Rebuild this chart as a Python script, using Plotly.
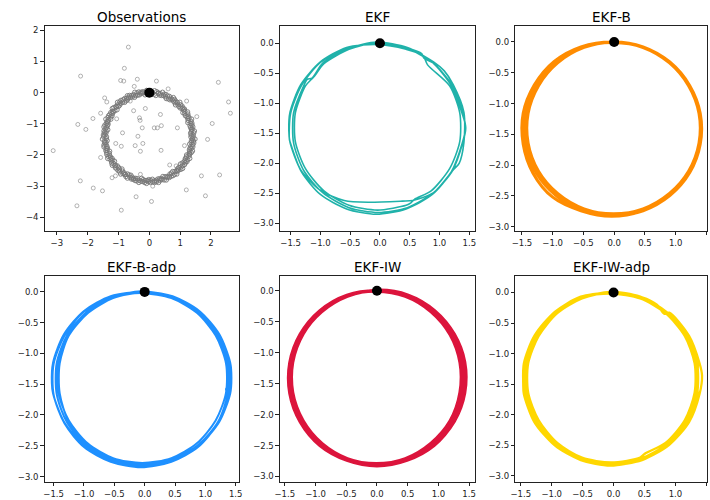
import plotly.graph_objects as go

# ---------------- data ----------------
panel_titles = ["Observations", "EKF", "EKF-B", "EKF-B-adp", "EKF-IW", "EKF-IW-adp"]
line_colors = ["#808080", "#20B2AA", "#FF8C00", "#1E90FF", "#DC143C", "#FFD700"]
start_point = (0.0, 0.0)

# noisy observations near the ring (four passes around it)
ring_in_x = [-0.02, 0.10, 0.21, 0.34, 0.46, 0.55, 0.67, 0.78, 0.85, 0.96, 1.06, 1.09, 1.17, 1.25, 1.25, 1.32, 1.37, 1.34, 1.35,
             1.37, 1.31, 1.32, 1.31, 1.21, 1.17, 1.13, 1.01, 0.96, 0.89, 0.76, 0.67, 0.57, 0.44, 0.34, 0.23, 0.10, -0.02,
             -0.14, -0.25, -0.38, -0.50, -0.60, -0.71, -0.82, -0.89, -1.00, -1.10, -1.13, -1.21, -1.29, -1.29, -1.36, -1.41, -1.37, -1.39,
             -1.41, -1.35, -1.36, -1.35, -1.25, -1.21, -1.17, -1.05, -1.00, -0.93, -0.80, -0.71, -0.61, -0.48, -0.38, -0.27, -0.14]
ring_in_y = [-0.05, -0.03, -0.09, -0.08, -0.09, -0.19, -0.23, -0.27, -0.39, -0.44, -0.51, -0.64, -0.74, -0.83, -0.96, -1.06, -1.18, -1.30, -1.42,
             -1.54, -1.65, -1.78, -1.90, -2.00, -2.11, -2.22, -2.29, -2.40, -2.50, -2.53, -2.61, -2.69, -2.69, -2.76, -2.81, -2.78, -2.79,
             -2.82, -2.75, -2.76, -2.75, -2.65, -2.61, -2.57, -2.45, -2.40, -2.33, -2.20, -2.11, -2.01, -1.88, -1.78, -1.67, -1.54, -1.42,
             -1.30, -1.19, -1.06, -0.94, -0.85, -0.74, -0.62, -0.55, -0.44, -0.34, -0.31, -0.23, -0.15, -0.15, -0.08, -0.03, -0.07]
ring_out_x = [0.04, 0.17, 0.29, 0.43, 0.54, 0.65, 0.78, 0.86, 0.99, 1.06, 1.14, 1.24, 1.26, 1.37, 1.38, 1.41, 1.46, 1.42,
              1.48, 1.44, 1.41, 1.40, 1.31, 1.31, 1.22, 1.14, 1.08, 0.95, 0.89, 0.77, 0.65, 0.55, 0.41, 0.30, 0.17, 0.04,
              -0.09, -0.21, -0.34, -0.46, -0.58, -0.71, -0.79, -0.93, -1.01, -1.10, -1.20, -1.23, -1.35, -1.38, -1.41, -1.47, -1.45, -1.52,
              -1.49, -1.47, -1.47, -1.39, -1.41, -1.32, -1.25, -1.20, -1.08, -1.03, -0.92, -0.80, -0.71, -0.57, -0.47, -0.34, -0.21, -0.09]
ring_out_y = [0.04, 0.06, -0.01, 0.01, -0.06, -0.12, -0.16, -0.28, -0.31, -0.43, -0.53, -0.62, -0.76, -0.85, -0.98, -1.10, -1.23, -1.36,
              -1.49, -1.61, -1.74, -1.87, -1.97, -2.11, -2.21, -2.31, -2.43, -2.48, -2.61, -2.66, -2.72, -2.80, -2.79, -2.88, -2.88, -2.88,
              -2.91, -2.85, -2.88, -2.82, -2.77, -2.74, -2.63, -2.61, -2.50, -2.41, -2.33, -2.19, -2.11, -1.98, -1.86, -1.74, -1.61, -1.49,
              -1.36, -1.23, -1.10, -0.99, -0.85, -0.74, -0.64, -0.51, -0.45, -0.31, -0.25, -0.19, -0.10, -0.09, 0.01, 0.02, 0.03, 0.07]
ring_mid_x = [0.04, 0.16, 0.29, 0.40, 0.52, 0.62, 0.74, 0.83, 0.93, 1.00, 1.11, 1.15, 1.22, 1.26, 1.33, 1.34, 1.37, 1.36,
              1.40, 1.36, 1.35, 1.30, 1.29, 1.21, 1.16, 1.07, 1.03, 0.92, 0.83, 0.72, 0.64, 0.51, 0.40, 0.28, 0.17, 0.04,
              -0.08, -0.20, -0.33, -0.44, -0.56, -0.66, -0.78, -0.87, -0.97, -1.04, -1.15, -1.19, -1.26, -1.30, -1.37, -1.38, -1.41, -1.40,
              -1.44, -1.40, -1.39, -1.34, -1.33, -1.25, -1.20, -1.12, -1.07, -0.96, -0.87, -0.76, -0.68, -0.55, -0.44, -0.32, -0.21, -0.08]
ring_mid_y = [-0.02, -0.05, -0.03, -0.09, -0.13, -0.20, -0.22, -0.32, -0.39, -0.49, -0.56, -0.67, -0.77, -0.89, -0.99, -1.12, -1.24, -1.36,
              -1.48, -1.60, -1.72, -1.84, -1.96, -2.06, -2.17, -2.26, -2.38, -2.44, -2.53, -2.58, -2.68, -2.70, -2.76, -2.77, -2.83, -2.81,
              -2.82, -2.79, -2.81, -2.75, -2.71, -2.64, -2.62, -2.52, -2.45, -2.35, -2.28, -2.17, -2.07, -1.95, -1.85, -1.72, -1.60, -1.48,
              -1.36, -1.24, -1.12, -1.01, -0.88, -0.78, -0.67, -0.58, -0.46, -0.40, -0.31, -0.26, -0.16, -0.14, -0.09, -0.07, -0.01, -0.03]
ring_mid2_x = [-0.02, 0.10, 0.24, 0.35, 0.48, 0.59, 0.70, 0.82, 0.91, 1.01, 1.09, 1.15, 1.25, 1.29, 1.35, 1.38, 1.39, 1.44, 1.42,
               1.43, 1.41, 1.36, 1.36, 1.29, 1.24, 1.17, 1.08, 1.02, 0.91, 0.82, 0.71, 0.58, 0.48, 0.35, 0.23, 0.11, -0.02,
               -0.15, -0.27, -0.40, -0.52, -0.62, -0.76, -0.85, -0.96, -1.05, -1.12, -1.22, -1.27, -1.34, -1.38, -1.40, -1.47, -1.45, -1.48,
               -1.46, -1.43, -1.44, -1.37, -1.34, -1.28, -1.19, -1.15, -1.04, -0.96, -0.85, -0.74, -0.64, -0.51, -0.40, -0.27, -0.14]
ring_mid2_y = [0.03, 0.00, 0.03, -0.03, -0.05, -0.11, -0.18, -0.22, -0.32, -0.39, -0.49, -0.60, -0.69, -0.81, -0.92, -1.04, -1.17, -1.29, -1.42,
               -1.55, -1.67, -1.79, -1.92, -2.03, -2.15, -2.25, -2.34, -2.46, -2.52, -2.62, -2.68, -2.72, -2.80, -2.81, -2.86, -2.86, -2.85,
               -2.88, -2.84, -2.83, -2.78, -2.72, -2.69, -2.60, -2.54, -2.45, -2.34, -2.26, -2.14, -2.04, -1.92, -1.79, -1.68, -1.55, -1.42,
               -1.29, -1.17, -1.04, -0.93, -0.80, -0.70, -0.60, -0.48, -0.40, -0.30, -0.23, -0.18, -0.09, -0.07, -0.01, 0.01, 0.00]
outlier_x = [-0.68, -0.81, -2.23, -0.93, -0.83, -0.39, 0.23, 2.24, -0.49, 0.61, -1.45, -1.38, 2.57, 2.63, 1.21, -1.58,
             -1.83, -1.06, -0.51, -0.13, -0.62, -0.32, -0.30, 0.36, 1.54, -2.32, -2.06, -0.23, 0.16, 0.26, 0.39, 0.91,
             2.04, -0.87, -0.37, 1.89, -3.12, -1.09, -0.91, -0.46, -0.21, -0.29, 0.38, -1.58, 1.14, 0.66, 0.87, -2.24,
             -1.21, -1.10, -0.29, 1.69, 2.28, -1.82, -1.52, 0.11, 1.20, 1.82, -0.43, -2.35, 0.07, -0.91]
outlier_y = [1.46, 0.78, 0.53, 0.39, 0.37, 0.43, 0.37, 0.33, 0.20, 0.12, -0.17, -0.30, -0.30, -0.66, -0.27, -0.66,
             -0.83, -0.84, -0.58, -0.51, -0.27, -0.81, -0.89, -0.70, -0.77, -1.02, -1.18, -1.13, -1.13, -1.13, -1.06, -1.13,
             -0.99, -1.29, -1.40, -1.50, -1.86, -1.63, -1.72, -1.70, -1.63, -1.88, -1.85, -2.08, -1.70, -2.32, -2.35, -2.83,
             -2.73, -2.67, -2.62, -2.67, -2.64, -3.06, -3.15, -3.00, -3.12, -3.31, -3.34, -3.63, -3.49, -3.77]

# filtered trajectories, one sub-list per lap
ekf_x = [[0.00, 0.46, 0.70, 0.74, 0.90, 1.22, 1.39, 1.44, 1.39, 1.22, 0.90, 0.46, -0.03, -0.52, -0.96, -1.28, -1.45, -1.45, -1.28, -1.22, -1.14, -0.96, -0.52],
         [-0.05, 0.46, 0.90, 1.08, 1.23, 1.41, 1.41, 1.33, 1.23, 0.90, 0.55, 0.38, -0.20, -0.60, -1.00, -1.33, -1.51, -1.53, -1.51, -1.33, -1.00, -0.56],
         [-0.04, 0.44, 0.72, 0.80, 1.17, 1.34, 1.34, 1.17, 0.86, 0.58, 0.52, 0.44, -0.04, -0.52, -0.94, -1.25, -1.42, -1.42, -1.25, -1.15, -1.10, -0.94, -0.52],
         [-0.06, 0.44, 0.88, 1.20, 1.38, 1.44, 1.38, 1.20, 0.88, 0.44, -0.06, -0.56, -1.00, -1.32, -1.50, -1.52, -1.50, -1.32, -1.00, -0.56, 0.00]]
ekf_y = [[0.01, -0.08, -0.17, -0.25, -0.33, -0.71, -1.16, -1.42, -1.66, -2.12, -2.49, -2.74, -2.82, -2.74, -2.49, -2.12, -1.66, -1.16, -0.71, -0.60, -0.58, -0.33, -0.08],
         [0.02, -0.07, -0.31, -0.46, -0.69, -1.15, -1.65, -2.00, -2.11, -2.49, -2.62, -2.63, -2.65, -2.62, -2.45, -2.11, -1.65, -1.45, -1.15, -0.69, -0.31, -0.07],
         [-0.02, -0.10, -0.20, -0.36, -0.71, -1.16, -1.64, -2.09, -2.46, -2.60, -2.66, -2.70, -2.78, -2.70, -2.46, -2.09, -1.64, -1.16, -0.71, -0.60, -0.55, -0.34, -0.10],
         [0.01, -0.08, -0.32, -0.71, -1.17, -1.40, -1.67, -2.14, -2.52, -2.76, -2.85, -2.76, -2.52, -2.14, -1.67, -1.60, -1.17, -0.71, -0.32, -0.08, 0.00]]

ekf_b_x = [[-0.04, 0.46, 0.90, 1.22, 1.40, 1.40, 1.22, 0.90, 0.46, -0.04, -0.54, -1.00, -1.32, -1.48, -1.48, -1.30, -0.98, -0.54],
           [-0.03, 0.46, 0.89, 1.21, 1.38, 1.38, 1.21, 0.89, 0.46, -0.03, -0.52, -0.95, -1.27, -1.44, -1.44, -1.27, -0.95, -0.52],
           [-0.01, 0.47, 0.90, 1.21, 1.38, 1.38, 1.21, 0.90, 0.47, -0.01, -0.49, -0.92, -1.23, -1.40, -1.40, -1.23, -0.92, -0.49],
           [-0.02, 0.47, 0.91, 1.23, 1.40, 1.40, 1.23, 0.91, 0.47, -0.02, -0.51, -0.95, -1.27, -1.44, -1.44, -1.27, -0.95, -0.51, 0.00]]
ekf_b_y = [[0.01, -0.08, -0.32, -0.70, -1.16, -1.66, -2.12, -2.50, -2.74, -2.83, -2.74, -2.52, -2.13, -1.66, -1.16, -0.70, -0.32, -0.08],
           [0.00, -0.08, -0.33, -0.70, -1.16, -1.64, -2.10, -2.47, -2.72, -2.80, -2.72, -2.47, -2.10, -1.64, -1.16, -0.70, -0.33, -0.08],
           [-0.01, -0.09, -0.34, -0.71, -1.16, -1.64, -2.10, -2.46, -2.71, -2.79, -2.71, -2.46, -2.10, -1.64, -1.16, -0.71, -0.34, -0.09],
           [0.00, -0.08, -0.33, -0.71, -1.16, -1.66, -2.12, -2.49, -2.74, -2.82, -2.74, -2.49, -2.12, -1.66, -1.16, -0.71, -0.33, -0.08, 0.00]]

ekf_b_adp_x = [[-0.05, 0.46, 0.90, 1.23, 1.41, 1.43, 1.41, 1.23, 0.90, 0.46, -0.05, -0.56, -1.00, -1.33, -1.51, -1.53, -1.51, -1.33, -1.00, -0.56],
               [-0.03, 0.46, 0.90, 1.22, 1.39, 1.39, 1.34, 1.37, 1.22, 0.90, 0.46, -0.03, -0.52, -0.96, -1.28, -1.45, -1.45, -1.28, -0.96, -0.52],
               [-0.04, 0.44, 0.86, 1.17, 1.34, 1.34, 1.17, 0.86, 0.44, -0.04, -0.52, -0.94, -1.25, -1.42, -1.42, -1.25, -0.94, -0.52],
               [-0.02, 0.46, 0.89, 1.21, 1.37, 1.37, 1.21, 0.89, 0.46, -0.02, -0.50, -0.93, -1.25, -1.40, -1.40, -1.25, -0.93, -0.50],
               [-0.06, 0.44, 0.88, 1.20, 1.38, 1.38, 1.20, 0.88, 0.44, -0.06, -0.56, -1.00, -1.32, -1.50, -1.50, -1.32, -1.00, -0.56, 0.00]]
ekf_b_adp_y = [[0.02, -0.07, -0.31, -0.69, -1.15, -1.40, -1.65, -2.11, -2.49, -2.73, -2.82, -2.73, -2.49, -2.11, -1.65, -1.48, -1.15, -0.69, -0.31, -0.07],
               [0.00, -0.08, -0.33, -0.71, -1.16, -1.48, -1.58, -1.70, -2.12, -2.49, -2.74, -2.82, -2.74, -2.49, -2.12, -1.66, -1.16, -0.71, -0.33, -0.08],
               [-0.02, -0.10, -0.34, -0.71, -1.16, -1.64, -2.09, -2.46, -2.70, -2.78, -2.70, -2.46, -2.09, -1.64, -1.16, -0.71, -0.34, -0.10],
               [-0.01, -0.09, -0.34, -0.71, -1.16, -1.65, -2.11, -2.48, -2.72, -2.80, -2.72, -2.48, -2.11, -1.65, -1.16, -0.71, -0.34, -0.09],
               [0.01, -0.08, -0.32, -0.71, -1.17, -1.67, -2.14, -2.52, -2.76, -2.85, -2.76, -2.52, -2.14, -1.67, -1.17, -0.71, -0.32, -0.08, 0.00]]

ekf_iw_x = [[0.00, 0.49, 0.93, 1.25, 1.42, 1.42, 1.25, 0.93, 0.49, 0.00, -0.49, -0.93, -1.25, -1.42, -1.42, -1.25, -0.93, -0.49],
            [0.01, 0.49, 0.91, 1.22, 1.39, 1.39, 1.22, 0.91, 0.49, 0.01, -0.47, -0.89, -1.20, -1.37, -1.37, -1.20, -0.89, -0.47],
            [-0.01, 0.46, 0.88, 1.19, 1.35, 1.35, 1.19, 0.88, 0.46, -0.01, -0.48, -0.90, -1.21, -1.37, -1.37, -1.21, -0.90, -0.48],
            [0.02, 0.51, 0.94, 1.26, 1.43, 1.43, 1.26, 0.94, 0.51, 0.02, -0.47, -0.90, -1.22, -1.39, -1.39, -1.22, -0.90, -0.47, 0.00]]
ekf_iw_y = [[0.01, -0.07, -0.32, -0.70, -1.16, -1.66, -2.12, -2.50, -2.74, -2.83, -2.74, -2.50, -2.12, -1.66, -1.16, -0.70, -0.32, -0.07],
            [0.00, -0.08, -0.33, -0.70, -1.16, -1.64, -2.10, -2.47, -2.72, -2.80, -2.72, -2.47, -2.10, -1.64, -1.16, -0.70, -0.33, -0.08],
            [-0.01, -0.09, -0.34, -0.71, -1.16, -1.64, -2.10, -2.46, -2.71, -2.79, -2.71, -2.46, -2.10, -1.64, -1.16, -0.71, -0.34, -0.09],
            [0.01, -0.07, -0.32, -0.70, -1.15, -1.65, -2.11, -2.48, -2.73, -2.81, -2.73, -2.48, -2.11, -1.65, -1.15, -0.70, -0.32, -0.07, 0.00]]

ekf_iw_adp_x = [[-0.03, 0.46, 0.70, 0.82, 0.90, 1.22, 1.39, 1.43, 1.39, 1.22, 0.90, 0.46, -0.03, -0.52, -0.96, -1.28, -1.45, -1.46, -1.45, -1.28, -0.96, -0.52],
                [-0.04, 0.43, 0.84, 1.15, 1.31, 1.31, 1.15, 0.84, 0.50, 0.43, -0.04, -0.51, -0.91, -1.21, -1.38, -1.38, -1.21, -0.91, -0.51],
                [-0.04, 0.45, 0.87, 1.19, 1.36, 1.34, 1.36, 1.19, 0.87, 0.45, -0.04, -0.53, -0.95, -1.27, -1.44, -1.44, -1.27, -0.95, -0.53],
                [-0.03, 0.44, 0.86, 1.18, 1.35, 1.35, 1.18, 0.86, 0.44, -0.03, -0.50, -0.92, -1.24, -1.41, -1.41, -1.24, -0.92, -0.50],
                [-0.05, 0.43, 0.85, 1.16, 1.33, 1.33, 1.16, 0.85, 0.43, -0.05, -0.53, -0.95, -1.26, -1.43, -1.43, -1.26, -0.95, -0.53, 0.00]]
ekf_iw_adp_y = [[0.00, -0.08, -0.20, -0.35, -0.33, -0.71, -1.16, -1.36, -1.66, -2.12, -2.49, -2.74, -2.82, -2.74, -2.49, -2.12, -1.66, -1.50, -1.16, -0.71, -0.33, -0.08],
                [-0.02, -0.10, -0.34, -0.71, -1.16, -1.64, -2.09, -2.46, -2.64, -2.70, -2.78, -2.70, -2.46, -2.09, -1.64, -1.16, -0.71, -0.34, -0.10],
                [0.00, -0.08, -0.33, -0.70, -1.16, -1.48, -1.64, -2.10, -2.47, -2.72, -2.80, -2.72, -2.47, -2.10, -1.64, -1.16, -0.70, -0.33, -0.08],
                [-0.01, -0.09, -0.34, -0.71, -1.16, -1.65, -2.11, -2.48, -2.72, -2.81, -2.72, -2.48, -2.11, -1.65, -1.16, -0.71, -0.34, -0.09],
                [0.01, -0.07, -0.32, -0.70, -1.16, -1.66, -2.12, -2.50, -2.74, -2.83, -2.74, -2.50, -2.12, -1.66, -1.16, -0.70, -0.32, -0.07, 0.00]]

# tick positions and labels
obs_xticks = [-3, -2, -1, 0, 1, 2]
obs_xlabels = ["\u22123", "\u22122", "\u22121", "0", "1", "2"]
obs_yticks = [-4, -3, -2, -1, 0, 1, 2]
obs_ylabels = ["\u22124", "\u22123", "\u22122", "\u22121", "0", "1", "2"]
traj_xticks = [-1.5, -1.0, -0.5, 0.0, 0.5, 1.0, 1.5]
traj_xlabels = ["\u22121.5", "\u22121.0", "\u22120.5", "0.0", "0.5", "1.0", "1.5"]
traj_yticks = [0.0, -0.5, -1.0, -1.5, -2.0, -2.5, -3.0]
traj_ylabels = ["0.0", "\u22120.5", "\u22121.0", "\u22121.5", "\u22122.0", "\u22122.5", "\u22123.0"]

# ---------------- layout ----------------
W, H = 710, 500
col_px = [(40, 237), (278, 475), (516, 710)]
row_px = [(25, 231), (276, 483)]
x_ranges = [[-3.40, 2.92], [-1.68, 1.59], [-1.61, 1.51], [-1.65, 1.56], [-1.58, 1.59], [-1.59, 1.51]]
y_ranges = [[-4.44, 2.14], [-3.13, 0.29], [-3.07, 0.26], [-3.09, 0.26], [-3.09, 0.24], [-3.10, 0.27]]

fig = go.Figure()


def flatten(loops):
    out = []
    for lap in loops:
        out.extend(lap)
    return out


# (x laps, y laps, line width, spline smoothing)
traj_sets = [None,
             (ekf_x, ekf_y, 1.6, 0.75),
             (ekf_b_x, ekf_b_y, 3.0, 1.0),
             (ekf_b_adp_x, ekf_b_adp_y, 2.0, 0.8),
             (ekf_iw_x, ekf_iw_y, 3.0, 1.0),
             (ekf_iw_adp_x, ekf_iw_adp_y, 2.3, 0.8)]

axis_style = dict(showline=True, mirror=True, linecolor="#222", linewidth=0.8, ticks="outside",
                  ticklen=3.5, tickwidth=0.8, tickcolor="#222", showgrid=False, zeroline=False,
                  tickfont=dict(family="DejaVu Sans", size=8.5, color="#222"), fixedrange=True)

outlier_marker = dict(symbol="circle-open", size=4, color="rgba(128,128,128,0.75)", line=dict(width=0.8))
ring_marker = dict(symbol="circle-open", size=4.5, color="rgba(120,120,120,0.9)", line=dict(width=1.0))

for k in range(6):
    r, c = divmod(k, 3)
    sfx = "" if k == 0 else str(k + 1)
    xa, ya = "x" + sfx, "y" + sfx
    if k == 0:
        fig.add_trace(go.Scatter(x=outlier_x, y=outlier_y, xaxis=xa, yaxis=ya, mode="markers",
                                 marker=outlier_marker, showlegend=False))
        fig.add_trace(go.Scatter(x=ring_in_x + ring_mid_x + ring_mid2_x + ring_out_x,
                                 y=ring_in_y + ring_mid_y + ring_mid2_y + ring_out_y,
                                 xaxis=xa, yaxis=ya, mode="markers", marker=ring_marker, showlegend=False))
        xt, xl, yt, yl = obs_xticks, obs_xlabels, obs_yticks, obs_ylabels
    else:
        lx, ly, lw, sm = traj_sets[k]
        fig.add_trace(go.Scatter(x=flatten(lx), y=flatten(ly), xaxis=xa, yaxis=ya, mode="lines",
                                 line=dict(color=line_colors[k], width=lw, shape="spline", smoothing=sm),
                                 showlegend=False))
        xt, xl, yt, yl = traj_xticks, traj_xlabels, traj_yticks, traj_ylabels
    fig.add_trace(go.Scatter(x=[start_point[0]], y=[start_point[1]], xaxis=xa, yaxis=ya, mode="markers",
                             marker=dict(color="black", size=10), showlegend=False))

    x0, x1 = col_px[c]
    y0, y1 = row_px[r]
    fig.update_layout({
        "xaxis" + sfx: dict(axis_style, domain=[x0 / W, x1 / W], range=x_ranges[k], anchor=ya,
                            tickvals=xt, ticktext=xl),
        "yaxis" + sfx: dict(axis_style, domain=[1 - y1 / H, 1 - y0 / H], range=y_ranges[k], anchor=xa,
                            tickvals=yt, ticktext=yl),
    })
    fig.add_annotation(text=panel_titles[k], xref="paper", yref="paper", x=(x0 + x1) / 2 / W,
                       y=1 - (y0 - 9) / H, xanchor="center", yanchor="middle", showarrow=False,
                       font=dict(family="DejaVu Sans", size=13.5, color="black"))

fig.update_layout(width=W, height=H, margin=dict(l=0, r=0, t=0, b=0), paper_bgcolor="white",
                  plot_bgcolor="white", showlegend=False)

fig.write_html("out.html")
